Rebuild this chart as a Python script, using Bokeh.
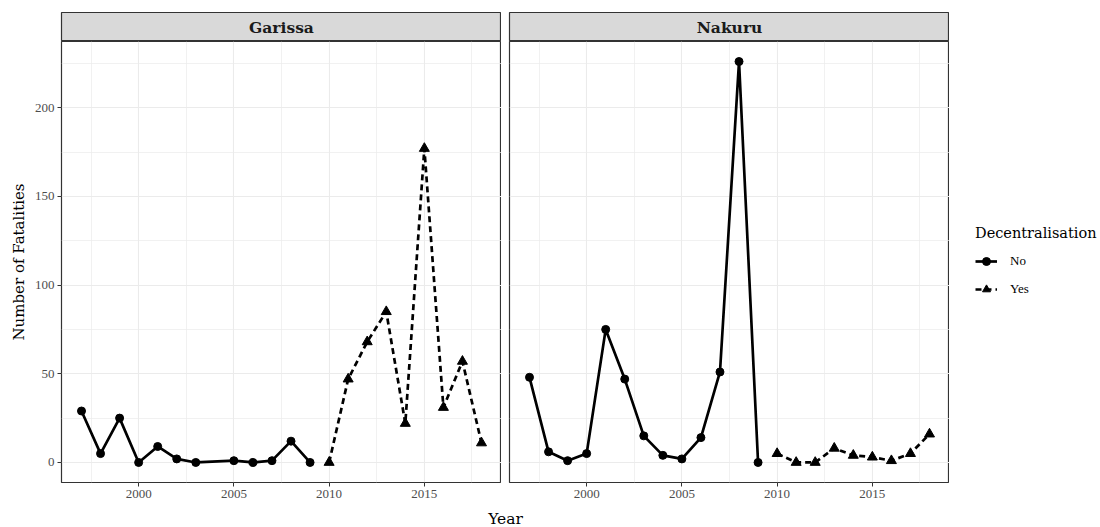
from bokeh.plotting import figure
from bokeh.layouts import row, column
from bokeh.models import Range1d, FixedTicker, Legend, LegendItem, ColumnDataSource
from bokeh.core.properties import value
from bokeh.embed import file_html
from bokeh.resources import INLINE

# ---- data ----------------------------------------------------------------
counties = ["Garissa", "Nakuru"]
groups = ["No", "Yes"]

garissa_no_years = [1997, 1998, 1999, 2000, 2001, 2002, 2003, 2005, 2006, 2007, 2008, 2009]
garissa_no_fatal = [29, 5, 25, 0, 9, 2, 0, 1, 0, 1, 12, 0]
garissa_yes_years = [2010, 2011, 2012, 2013, 2014, 2015, 2016, 2017, 2018]
garissa_yes_fatal = [0, 47, 68, 85, 22, 177, 31, 57, 11]

nakuru_no_years = [1997, 1998, 1999, 2000, 2001, 2002, 2003, 2004, 2005, 2006, 2007, 2008, 2009]
nakuru_no_fatal = [48, 6, 1, 5, 75, 47, 15, 4, 2, 14, 51, 226, 0]
nakuru_yes_years = [2010, 2011, 2012, 2013, 2014, 2015, 2016, 2017, 2018]
nakuru_yes_fatal = [5, 0, 0, 8, 4, 3, 1, 5, 16]

x_ticks = [2000, 2005, 2010, 2015]
x_minor = [1997.5, 2002.5, 2007.5, 2012.5, 2017.5]
y_ticks = [0, 50, 100, 150, 200]
y_minor = [25, 75, 125, 175, 225]

series = {
    "Garissa": [(garissa_no_years, garissa_no_fatal), (garissa_yes_years, garissa_yes_fatal)],
    "Nakuru": [(nakuru_no_years, nakuru_no_fatal), (nakuru_yes_years, nakuru_yes_fatal)],
}

# ---- styling -------------------------------------------------------------
FONT = "DejaVu Serif"
SMALL_FONT = "Liberation Serif"
GRID = "#EBEBEB"
BORDER = "#333333"
TICK_TXT = "#4D4D4D"

all_years = garissa_no_years + garissa_yes_years + nakuru_no_years + nakuru_yes_years
all_vals = garissa_no_fatal + garissa_yes_fatal + nakuru_no_fatal + nakuru_yes_fatal
xpad = (max(all_years) - min(all_years)) * 0.05
ypad = (max(all_vals) - min(all_vals)) * 0.05
X0, X1 = min(all_years) - xpad, max(all_years) + xpad
Y0, Y1 = min(all_vals) - ypad, max(all_vals) + ypad

LEFT = 61
GAP = 8
FRAME_W = 440
LEGEND_W = 1100 - LEFT - FRAME_W - GAP - FRAME_W
STRIP_H = 41
PANEL_H = 466
TITLE_H = 527 - STRIP_H - PANEL_H


def strip(name, first):
    s = figure(width=(LEFT if first else GAP) + FRAME_W,
               height=STRIP_H, x_range=Range1d(0, 1), y_range=Range1d(0, 1),
               toolbar_location=None, output_backend="svg",
               x_axis_location=None, y_axis_location=None,
               min_border_left=LEFT if first else GAP,
               min_border_right=0, min_border_top=12, min_border_bottom=0)
    s.background_fill_color = "#D9D9D9"
    s.outline_line_color = BORDER
    s.outline_line_width = 1.2
    s.grid.visible = False
    s.text(x=[0.5], y=[0.5], text=[name], text_align="center", text_baseline="middle",
           text_font=value(FONT), text_font_style="bold", text_font_size="15.5px",
           text_color="#1A1A1A")
    return s


def style_axis(ax):
    ax.axis_line_color = None
    ax.major_tick_line_color = BORDER
    ax.major_tick_line_width = 1
    ax.major_tick_out = 4
    ax.major_tick_in = 0
    ax.minor_tick_line_color = None
    ax.major_label_text_font = SMALL_FONT
    ax.major_label_text_font_size = "13px"
    ax.major_label_text_color = TICK_TXT
    ax.major_label_standoff = 3


def draw_series(p, sources):
    rends = []
    for src, grp in zip(sources, groups):
        if grp == "No":
            ln = p.line("year", "fatal", source=src, line_color="black", line_width=2.7)
            mk = p.scatter("year", "fatal", source=src, marker="circle", size=8,
                           fill_color="black", line_color="black")
        else:
            ln = p.line("year", "fatal", source=src, line_color="black", line_width=2.7,
                        line_dash="6 4")
            mk = p.scatter("year", "fatal", source=src, marker="triangle", size=10,
                           fill_color="black", line_color="black")
        rends.append((grp, [ln, mk]))
    return rends


def panel(name, first):
    p = figure(width=(LEFT if first else GAP) + FRAME_W,
               height=PANEL_H, x_range=Range1d(X0, X1), y_range=Range1d(Y0, Y1),
               toolbar_location=None, output_backend="svg",
               y_axis_location="left" if first else None,
               min_border_left=LEFT if first else GAP,
               min_border_right=0, min_border_top=0, min_border_bottom=25)
    p.outline_line_color = BORDER
    p.outline_line_width = 1.2
    p.background_fill_color = "white"

    p.xaxis.ticker = FixedTicker(ticks=x_ticks)
    p.xgrid.ticker = FixedTicker(ticks=x_ticks, minor_ticks=x_minor)
    p.ygrid.ticker = FixedTicker(ticks=y_ticks, minor_ticks=y_minor)
    for g in (p.xgrid, p.ygrid):
        g.grid_line_color = GRID
        g.grid_line_width = 1.1
        g.minor_grid_line_color = GRID
        g.minor_grid_line_width = 0.7

    for ax in p.xaxis:
        style_axis(ax)
    if first:
        for ax in p.yaxis:
            style_axis(ax)
        p.yaxis.ticker = FixedTicker(ticks=y_ticks)
        p.yaxis.axis_label = "Number of Fatalities"
        p.yaxis.axis_label_text_font = FONT
        p.yaxis.axis_label_text_font_style = "normal"
        p.yaxis.axis_label_text_font_size = "15px"
        p.yaxis.axis_label_text_color = "black"
        p.yaxis.axis_label_standoff = 4

    sources = [ColumnDataSource(dict(year=yrs, fatal=vals)) for yrs, vals in series[name]]
    draw_series(p, sources)
    return p, sources


s1 = strip(counties[0], True)
s2 = strip(counties[1], False)
p1, _ = panel(counties[0], True)
p2, nakuru_sources = panel(counties[1], False)

# legend area to the right of the panels; its key renderers share the panel
# sources but sit outside this figure's unit ranges, so only the keys show
lf = figure(width=LEGEND_W, height=PANEL_H, x_range=Range1d(0, 1), y_range=Range1d(0, 1),
            toolbar_location=None, output_backend="svg",
            x_axis_location=None, y_axis_location=None,
            min_border_left=0, min_border_right=0, min_border_top=0, min_border_bottom=25)
lf.outline_line_color = None
lf.grid.visible = False
key_rends = draw_series(lf, nakuru_sources)

legend = Legend(items=[LegendItem(label=g, renderers=r) for g, r in key_rends],
                title="Decentralisation", location="center_left",
                title_text_font=FONT, title_text_font_size="14.5px",
                title_text_font_style="normal", title_text_color="black",
                title_standoff=10,
                label_text_font=SMALL_FONT, label_text_font_size="13px",
                label_text_color="black",
                glyph_width=22, glyph_height=20, label_height=20,
                label_standoff=13, spacing=8, padding=0, margin=26,
                border_line_color=None, background_fill_alpha=0)
lf.add_layout(legend, "center")

# shared x-axis title centred under both panels
yfig = figure(width=2 * LEFT + 2 * FRAME_W + GAP, height=TITLE_H,
              x_range=Range1d(0, 1), y_range=Range1d(0, 1),
              toolbar_location=None, output_backend="svg",
              x_axis_location=None, y_axis_location=None,
              min_border_left=0, min_border_right=0, min_border_top=0, min_border_bottom=0)
yfig.outline_line_color = None
yfig.grid.visible = False
yfig.text(x=[0.5], y=[0.45], text=["Year"], text_align="center", text_baseline="middle",
          text_font=value(FONT), text_font_size="15.5px", text_color="black")

layout = column(row(s1, s2), row(p1, p2, lf), yfig, spacing=0)
open("out.html", "w").write(file_html(layout, INLINE))
